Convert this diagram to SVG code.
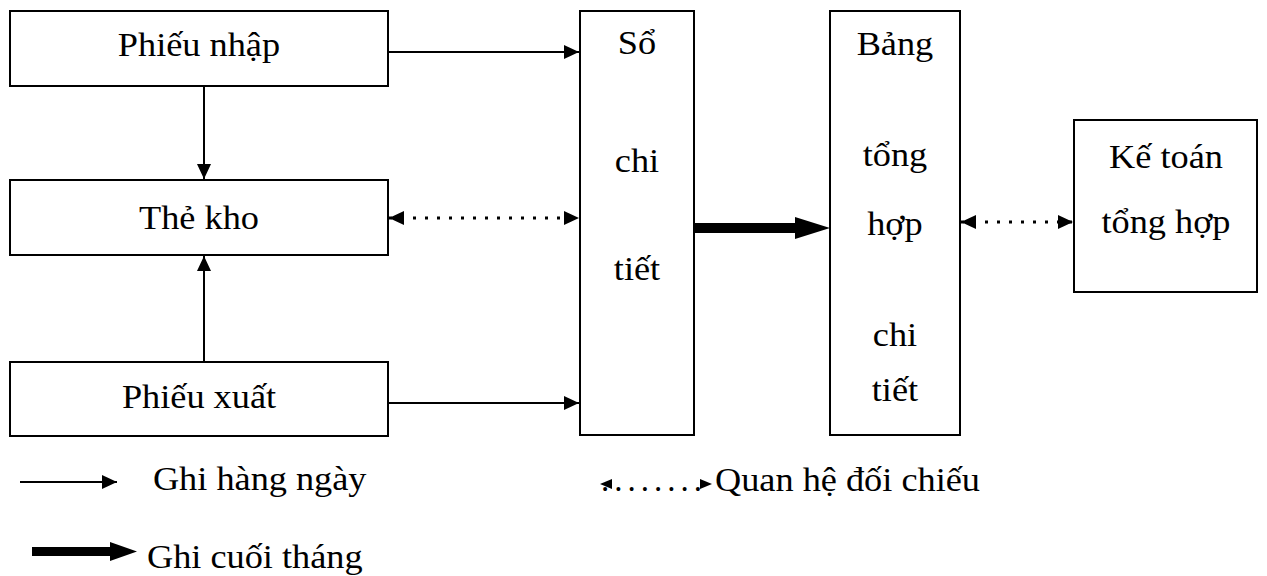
<svg xmlns="http://www.w3.org/2000/svg" width="1267" height="576" viewBox="0 0 1267 576">
  <defs>
    <marker id="head" viewBox="0 0 15 14" refX="15" refY="7" markerWidth="15" markerHeight="14" markerUnits="userSpaceOnUse" orient="auto">
      <path d="M0,0 L15,7 L0,14 Z" fill="#000"/>
    </marker>
    <marker id="headStart" viewBox="0 0 15 14" refX="0" refY="7" markerWidth="15" markerHeight="14" markerUnits="userSpaceOnUse" orient="auto">
      <path d="M15,0 L0,7 L15,14 Z" fill="#000"/>
    </marker>
  </defs>
  <style>
    .box { fill: #fff; stroke: #000; stroke-width: 2; }
    .lbl { font-family: "Liberation Serif", "Times New Roman", serif; font-size: 33px; fill: #000; text-anchor: middle; }
    .leg { font-family: "Liberation Serif", "Times New Roman", serif; font-size: 33px; fill: #000; }
    .solid { stroke: #000; stroke-width: 2; fill: none; marker-end: url(#head); }
    .dotted { stroke: #000; stroke-width: 3; fill: none; stroke-dasharray: 3 9; marker-start: url(#headStart); marker-end: url(#head); }
  </style>
  <rect width="1267" height="576" fill="#fff"/>

  <!-- source documents -->
  <g id="phieu-nhap">
    <rect class="box" x="10" y="11" width="378" height="75"/>
    <text class="lbl" transform="scale(1.1 1)" x="180.9" y="56">Phiếu nhập</text>
  </g>
  <g id="the-kho">
    <rect class="box" x="10" y="180" width="378" height="75"/>
    <text class="lbl" transform="scale(1.1 1)" x="180.9" y="229">Thẻ kho</text>
  </g>
  <g id="phieu-xuat">
    <rect class="box" x="10" y="362" width="378" height="74"/>
    <text class="lbl" transform="scale(1.1 1)" x="180.9" y="408">Phiếu xuất</text>
  </g>

  <!-- ledgers -->
  <g id="so-chi-tiet">
    <rect class="box" x="580" y="11" width="114" height="424"/>
    <text class="lbl" transform="scale(1.1 1)" x="579.1" y="54">Sổ</text>
    <text class="lbl" transform="scale(1.1 1)" x="579.1" y="172">chi</text>
    <text class="lbl" transform="scale(1.1 1)" x="579.1" y="280">tiết</text>
  </g>
  <g id="bang-tong-hop">
    <rect class="box" x="830" y="11" width="130" height="424"/>
    <text class="lbl" transform="scale(1.1 1)" x="813.6" y="55">Bảng</text>
    <text class="lbl" transform="scale(1.1 1)" x="813.6" y="166">tổng</text>
    <text class="lbl" transform="scale(1.1 1)" x="813.6" y="235">hợp</text>
    <text class="lbl" transform="scale(1.1 1)" x="813.6" y="346">chi</text>
    <text class="lbl" transform="scale(1.1 1)" x="813.6" y="401">tiết</text>
  </g>
  <g id="ke-toan">
    <rect class="box" x="1074" y="120" width="183" height="172"/>
    <text class="lbl" transform="scale(1.1 1)" x="1060" y="168">Kế toán</text>
    <text class="lbl" transform="scale(1.1 1)" x="1060" y="233">tổng hợp</text>
  </g>

  <g id="connectors">
    <line class="solid" x1="388" y1="52" x2="579" y2="52"/>
    <line class="solid" x1="204" y1="86" x2="204" y2="179"/>
    <line class="solid" x1="204" y1="362" x2="204" y2="256"/>
    <line class="solid" x1="388" y1="403" x2="579" y2="403"/>
    <line class="dotted" x1="389" y1="218" x2="579" y2="218"/>
    <line class="dotted" x1="961" y1="222" x2="1073" y2="222"/>
    <path d="M694,223 H795 V217 L830,228 L795,239 V233 H694 Z" fill="#000"/>
  </g>

  <!-- key -->
  <g id="legend">
    <line class="solid" x1="20" y1="482" x2="117" y2="482"/>
    <text class="leg" transform="scale(1.1 1)" x="139" y="490">Ghi hàng ngày</text>
    <path d="M32,547 H110 V542 L137,551.5 L110,561 V556 H32 Z" fill="#000"/>
    <text class="leg" transform="scale(1.1 1)" x="133.6" y="568">Ghi cuối tháng</text>
    <path d="M600,484 L612,479 L612,489 Z" fill="#000"/>
    <text class="leg" x="601" y="491" font-size="26" letter-spacing="5">........</text>
    <path d="M712,484 L700,479 L700,489 Z" fill="#000"/>
    <text class="leg" transform="scale(1.1 1)" x="650" y="491">Quan hệ đối chiếu</text>
  </g>
</svg>
